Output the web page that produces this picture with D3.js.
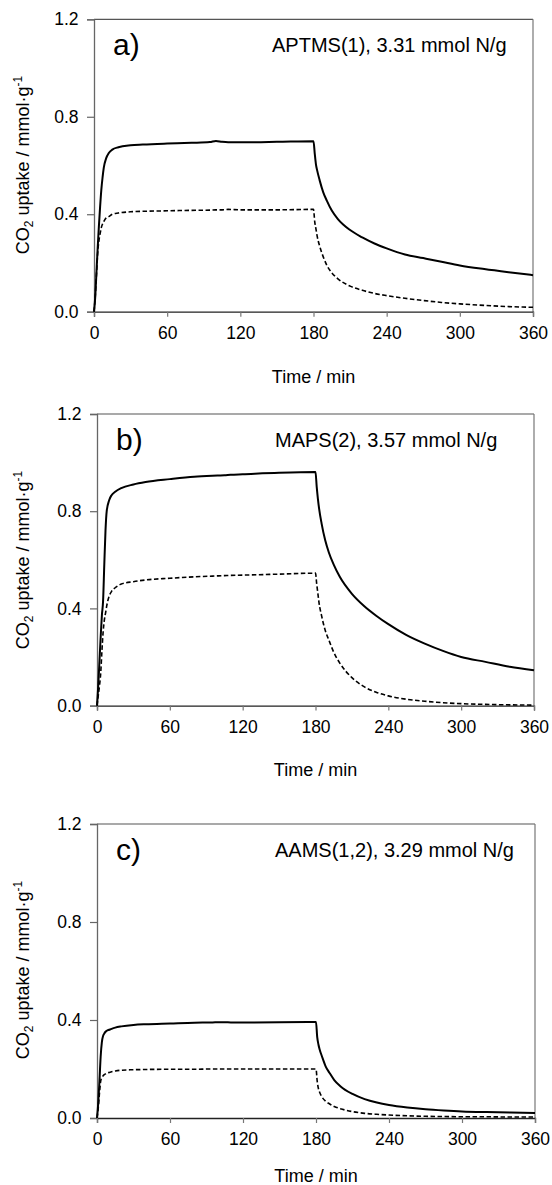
<!DOCTYPE html>
<html>
<head>
<meta charset="utf-8">
<script src="https://cdn.jsdelivr.net/npm/d3@7"></script>
<style>
  html, body { margin: 0; padding: 0; background: #fff; }
  svg { display: block; }
  text { font-family: "Liberation Sans", Arial, sans-serif; fill: #000; }
</style>
</head>
<body>
<svg id="chart" width="552" height="1185"></svg>
<script>
// Shared sampling times (min) for every uptake curve
const time = [0,1,2,3,4,5,6,7,8,10,12,15,20,30,40,60,80,95,100,105,110,120,150,180,
  181,182,183,185,188,191,195,200,210,220,230,240,255,270,285,300,320,340,360];

// a) APTMS(1)
const aSolid = [0,0.06,0.16,0.26,0.35,0.43,0.50,0.55,0.59,0.63,0.65,0.665,0.675,0.683,0.686,0.69,0.693,0.696,0.701,0.697,0.695,0.695,0.697,0.70,
  0.65,0.605,0.58,0.54,0.49,0.455,0.415,0.38,0.335,0.305,0.28,0.26,0.235,0.22,0.205,0.19,0.175,0.162,0.15];
const aDash = [0,0.06,0.15,0.24,0.29,0.32,0.345,0.36,0.37,0.385,0.39,0.40,0.405,0.41,0.412,0.414,0.416,0.417,0.418,0.418,0.42,0.418,0.418,0.42,
  0.37,0.34,0.31,0.27,0.225,0.19,0.16,0.135,0.105,0.088,0.075,0.066,0.055,0.046,0.038,0.032,0.026,0.021,0.018];

// b) MAPS(2)
const bSolid = [0,0.08,0.18,0.28,0.37,0.43,0.58,0.72,0.80,0.845,0.866,0.88,0.895,0.91,0.92,0.932,0.942,0.946,0.947,0.948,0.95,0.952,0.958,0.961,
  0.90,0.85,0.81,0.75,0.68,0.63,0.58,0.53,0.46,0.41,0.37,0.335,0.29,0.255,0.225,0.20,0.18,0.16,0.145];
const bDash = [0,0.04,0.08,0.13,0.22,0.30,0.35,0.38,0.41,0.45,0.47,0.485,0.50,0.51,0.517,0.524,0.53,0.533,0.534,0.535,0.536,0.537,0.541,0.545,
  0.50,0.46,0.42,0.37,0.31,0.27,0.22,0.175,0.115,0.078,0.055,0.04,0.026,0.018,0.012,0.008,0.005,0.003,0.002];

// c) AAMS(1,2)
const cSolid = [0,0.06,0.15,0.25,0.31,0.335,0.345,0.352,0.356,0.36,0.364,0.369,0.374,0.38,0.383,0.386,0.389,0.39,0.391,0.391,0.39,0.39,0.391,0.392,
  0.33,0.30,0.28,0.25,0.21,0.185,0.155,0.13,0.098,0.077,0.063,0.053,0.043,0.036,0.031,0.027,0.024,0.022,0.02];
const cDash = [0,0.04,0.10,0.15,0.165,0.172,0.177,0.18,0.183,0.186,0.189,0.192,0.195,0.197,0.198,0.199,0.199,0.2,0.2,0.2,0.2,0.2,0.2,0.2,
  0.15,0.12,0.105,0.085,0.068,0.058,0.047,0.038,0.026,0.019,0.015,0.012,0.009,0.007,0.006,0.005,0.005,0.004,0.004];

const panelLetters = ["a)", "b)", "c)"];
const panelNotes = ["APTMS(1), 3.31 mmol N/g", "MAPS(2), 3.57 mmol N/g", "AAMS(1,2), 3.29 mmol N/g"];
const xTicks = [0, 60, 120, 180, 240, 300, 360];
const yTicks = [0.0, 0.4, 0.8, 1.2];

const solids = [aSolid, bSolid, cSolid];
const dashes = [aDash, bDash, cDash];

// plot frames for the three stacked panels
const frames = [
  { left: 94, right: 533, top: 19.3, bottom: 311.7, xTitle: 383, yMid: 165 },
  { left: 97, right: 534, top: 414, bottom: 705.6, xTitle: 776, yMid: 560 },
  { left: 97, right: 535, top: 824, bottom: 1118, xTitle: 1182, yMid: 970 }
];

const svg = d3.select("#chart");

frames.forEach((f, i) => {
  const x = d3.scaleLinear().domain([0, 360]).range([f.left, f.right]);
  const y = d3.scaleLinear().domain([0, 1.2]).range([f.bottom, f.top]);
  const g = svg.append("g");

  // frame: top and right borders
  g.append("line").attr("x1", f.left).attr("x2", f.right).attr("y1", f.top).attr("y2", f.top)
    .attr("stroke", "#555").attr("stroke-width", 1.2);
  g.append("line").attr("x1", f.right).attr("x2", f.right).attr("y1", f.top).attr("y2", f.bottom)
    .attr("stroke", "#777").attr("stroke-width", 1.2);

  // y axis
  const yAxis = g.append("g").attr("transform", `translate(${f.left},0)`)
    .call(d3.axisLeft(y).tickValues(yTicks).tickFormat(d3.format(".1f")).tickSize(7).tickPadding(8.5));
  yAxis.select(".domain").attr("stroke", "#666").attr("stroke-width", 1.3);
  yAxis.selectAll(".tick line").attr("stroke", "#666").attr("stroke-width", 1.2);
  yAxis.selectAll(".tick text").attr("font-size", "17.5px")
    .attr("font-family", '"Liberation Sans", Arial, sans-serif').attr("fill", "#000");

  // x axis
  const xAxis = g.append("g").attr("transform", `translate(0,${f.bottom})`)
    .call(d3.axisBottom(x).tickValues(xTicks).tickSize(5).tickPadding(10));
  xAxis.select(".domain").attr("stroke", "#222").attr("stroke-width", 1.3);
  xAxis.selectAll(".tick line").attr("stroke", "#777").attr("stroke-width", 1.2);
  xAxis.selectAll(".tick text").attr("font-size", "17.5px")
    .attr("font-family", '"Liberation Sans", Arial, sans-serif').attr("fill", "#000");

  // curves
  const line = d3.line().x((d, k) => x(time[k])).y(d => y(d)).curve(d3.curveMonotoneX);
  g.append("path").datum(dashes[i]).attr("d", line)
    .attr("fill", "none").attr("stroke", "#000").attr("stroke-width", 1.6)
    .attr("stroke-dasharray", "4.5,2.5");
  g.append("path").datum(solids[i]).attr("d", line)
    .attr("fill", "none").attr("stroke", "#000").attr("stroke-width", 2);

  // panel letter and sample note
  g.append("text").attr("x", f.left + 19).attr("y", f.top + 36)
    .attr("font-size", "30px").text(panelLetters[i]);
  g.append("text").attr("x", f.left + 178).attr("y", f.top + 33)
    .attr("font-size", "20px").text(panelNotes[i]);

  // axis titles
  g.append("text").attr("x", (f.left + f.right) / 2).attr("y", f.xTitle)
    .attr("text-anchor", "middle").attr("font-size", "18px").text("Time / min");

  const yt = g.append("text")
    .attr("transform", `translate(29,${f.yMid}) rotate(-90)`)
    .attr("text-anchor", "middle").attr("font-size", "18px");
  yt.append("tspan").text("CO");
  yt.append("tspan").attr("font-size", "12px").attr("dy", 4).text("2");
  yt.append("tspan").attr("dy", -4).text(" uptake / mmol·g");
  yt.append("tspan").attr("font-size", "12px").attr("dy", -7).text("-1");
});
</script>
</body>
</html>
